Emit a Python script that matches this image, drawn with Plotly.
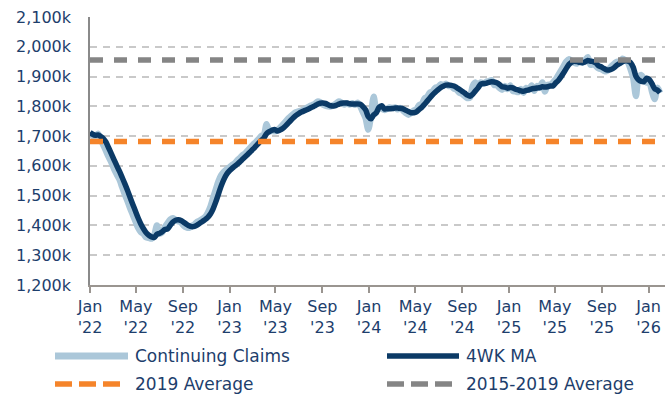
import pandas as pd
import plotly.graph_objects as go

# ---- data (thousands) ----
start_week = "2022-01-01"
continuing_claims = [
    1712, 1700, 1696, 1708, 1690, 1670, 1650, 1630, 1612, 1590,
    1572, 1555, 1530, 1505, 1483, 1458, 1436, 1414, 1392, 1378,
    1372, 1360, 1358, 1356, 1366, 1400, 1372, 1378, 1395, 1408,
    1420, 1424, 1418, 1414, 1410, 1400, 1394, 1392, 1398, 1403,
    1412, 1416, 1422, 1428, 1442, 1462, 1492, 1520, 1548, 1568,
    1580, 1588, 1594, 1602, 1608, 1618, 1626, 1636, 1642, 1652,
    1662, 1672, 1680, 1690, 1700, 1705, 1740, 1715, 1718, 1716,
    1720, 1728, 1738, 1748, 1758, 1766, 1774, 1780, 1783, 1786,
    1790, 1795, 1800, 1804, 1808, 1816, 1814, 1806, 1802, 1800,
    1800, 1804, 1810, 1816, 1812, 1806, 1810, 1806, 1810, 1805,
    1812, 1800, 1780, 1760, 1722, 1770, 1832, 1790, 1795, 1792,
    1788, 1792, 1796, 1794, 1796, 1790, 1794, 1786, 1778, 1772,
    1778, 1786, 1790, 1804, 1808, 1826, 1832, 1846, 1850, 1862,
    1864, 1874, 1870, 1876, 1868, 1868, 1860, 1856, 1846, 1842,
    1835, 1828, 1830, 1868, 1880, 1870, 1880, 1876, 1882, 1884,
    1888, 1872, 1872, 1862, 1856, 1868, 1858, 1870, 1852, 1850,
    1848, 1858, 1846, 1862, 1856, 1870, 1852, 1868, 1862, 1880,
    1850, 1872, 1872, 1880, 1890, 1905, 1920, 1935, 1950, 1958,
    1952, 1946, 1944, 1950, 1946, 1955, 1965, 1940, 1942, 1936,
    1928, 1925, 1920, 1918, 1926, 1936, 1944, 1950, 1946, 1960,
    1955, 1948, 1925, 1895, 1835, 1900, 1905, 1892, 1880, 1882,
    1850, 1825, 1862, 1845,
]
avg_2019 = 1682
avg_2015_2019 = 1956

series_names = ["Continuing Claims", "4WK MA", "2019 Average", "2015-2019 Average"]
tick_dates = ["2022-01-01", "2022-05-01", "2022-09-01", "2023-01-01", "2023-05-01",
              "2023-09-01", "2024-01-01", "2024-05-01", "2024-09-01", "2025-01-01",
              "2025-05-01", "2025-09-01", "2026-01-01"]
tick_labels = ["Jan<br>'22", "May<br>'22", "Sep<br>'22", "Jan<br>'23", "May<br>'23",
               "Sep<br>'23", "Jan<br>'24", "May<br>'24", "Sep<br>'24", "Jan<br>'25",
               "May<br>'25", "Sep<br>'25", "Jan<br>'26"]
y_ticks = [1200, 1300, 1400, 1500, 1600, 1700, 1800, 1900, 2000, 2100]
y_labels = ["1,200k", "1,300k", "1,400k", "1,500k", "1,600k", "1,700k",
            "1,800k", "1,900k", "2,000k", "2,100k"]

dates = pd.date_range(start_week, periods=len(continuing_claims), freq="7D")
claims = pd.Series(continuing_claims, index=dates)
ma4 = claims.rolling(4, min_periods=1).mean()

# ---- style ----
C_LIGHT = "#abc7d9"
C_DARK = "#0b3a66"
C_ORANGE = "#f5842a"
C_GRAY = "#858585"
C_TEXT = "#1d3e6c"
FONT = "DejaVu Sans"

fig = go.Figure()
fig.add_trace(go.Scatter(x=dates, y=claims.values, mode="lines",
                         line=dict(color=C_LIGHT, width=6.5, shape="spline", smoothing=0.7),
                         name=series_names[0]))
fig.add_trace(go.Scatter(x=dates, y=ma4.values, mode="lines",
                         line=dict(color=C_DARK, width=5.5, shape="spline", smoothing=0.8),
                         name=series_names[1]))
fig.add_trace(go.Scatter(x=[dates[0], dates[-1]], y=[avg_2019, avg_2019], mode="lines",
                         line=dict(color=C_ORANGE, width=5.5, dash="13px,11px"),
                         name=series_names[2]))
fig.add_trace(go.Scatter(x=[dates[0], dates[-1]], y=[avg_2015_2019, avg_2015_2019],
                         mode="lines",
                         line=dict(color=C_GRAY, width=5.5, dash="13px,11px"),
                         name=series_names[3]))

fig.update_layout(
    width=668, height=401,
    margin=dict(l=90, r=3, t=17, b=116),
    paper_bgcolor="white", plot_bgcolor="white",
    showlegend=False,
    font=dict(family=FONT, color=C_TEXT),
)
fig.update_xaxes(
    range=["2022-01-01", "2026-02-13"],
    tickvals=tick_dates, ticktext=tick_labels,
    tickfont=dict(size=16, color=C_TEXT, family=FONT),
    ticks="outside", ticklen=6, tickwidth=1.5, tickcolor="#9a9590",
    showline=True, linecolor="#9a9590", linewidth=1.5,
    showgrid=False, zeroline=False,
)
fig.update_yaxes(
    range=[1200, 2100],
    tickvals=y_ticks, ticktext=y_labels,
    tickfont=dict(size=16, color=C_TEXT, family=FONT),
    ticks="", ticklabelstandoff=14,
    showline=True, linecolor="#8a8a8a", linewidth=1.5,
    showgrid=True, gridcolor="#c9c9c9", gridwidth=1.5, griddash="7px,6px",
    zeroline=False,
)

# ---- manual legend ----
def px2x(px):
    return (px - 90) / 575.0

def py2y(py):
    return (285 - py) / 268.0

legend_items = [
    (series_names[0], C_LIGHT, 7, "solid", 55, 128, 133, 356),
    (series_names[1], C_DARK, 5.5, "solid", 387, 459, 464, 356),
    (series_names[2], C_ORANGE, 5.5, "17px,7px", 55, 121, 133, 384),
    (series_names[3], C_GRAY, 5.5, "17px,7px", 387, 455, 464, 384),
]
for name, col, w, dash, x0, x1, tx, ty in legend_items:
    fig.add_shape(type="line", xref="paper", yref="paper",
                  x0=px2x(x0), x1=px2x(x1), y0=py2y(ty), y1=py2y(ty),
                  line=dict(color=col, width=w, dash=dash))
    fig.add_annotation(xref="paper", yref="paper", x=px2x(tx), y=py2y(ty),
                       text=name, showarrow=False, xanchor="left", yanchor="middle",
                       font=dict(size=17, color=C_TEXT, family=FONT))

fig.write_html("out.html")
